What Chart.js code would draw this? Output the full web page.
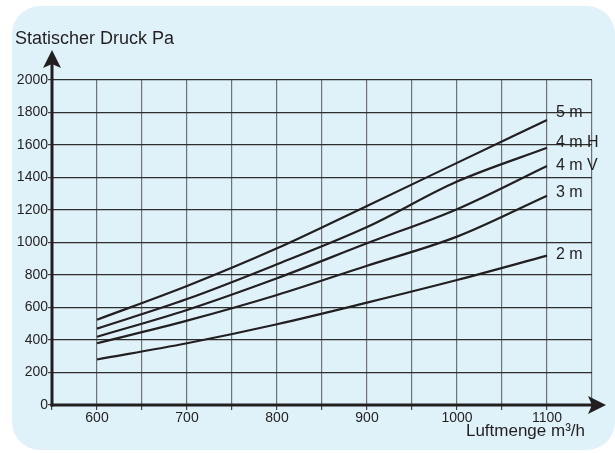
<!DOCTYPE html>
<html><head><meta charset="utf-8">
<script src="https://cdn.jsdelivr.net/npm/chart.js@4.4.0/dist/chart.umd.min.js"></script>
<style>
html,body{margin:0;padding:0;background:#fff;}
#wrap{position:relative;width:615px;height:453px;overflow:hidden;}
#bg{position:absolute;left:12px;top:6px;width:603px;height:444px;background:#dff2fa;border-radius:28px;}
canvas{position:absolute;left:0;top:0;}
</style></head><body>
<div id="wrap"><div id="bg"></div><canvas id="c" width="615" height="453"></canvas></div>
<script>
// Data
const airflow = [600, 700, 800, 900, 1000, 1100];
const press5m  = [525, 732, 964, 1225, 1490, 1754];
const press4mH = [470, 652, 866, 1095, 1375, 1583];
const press4mV = [420, 585, 780, 995, 1205, 1471];
const press3m  = [380, 519, 677, 857, 1036, 1288];
const press2m  = [280, 380, 497, 630, 769, 919];
const seriesNames = ['5 m', '4 m H', '4 m V', '3 m', '2 m'];
const yTitle = 'Statischer Druck Pa';
const xTitle = 'Luftmenge m³/h';

const FONT = '"Liberation Sans", Arial, sans-serif';
const INK = '#231f20';
const allSeries = [press5m, press4mH, press4mV, press3m, press2m];

const datasets = allSeries.map((vals, i) => ({
  label: seriesNames[i],
  data: airflow.map((x, j) => ({x: x, y: vals[j]})),
  borderColor: INK,
  borderWidth: 2.2,
  pointRadius: 0,
  fill: false,
  cubicInterpolationMode: 'monotone'
}));

const labelNudge = [-7, -5, 0, -3, -1];

const decor = {
  id: 'decor',
  afterDraw(chart) {
    const ctx = chart.ctx;
    const xs = chart.scales.x, ys = chart.scales.y;
    const L = xs.left, B = ys.bottom;
    ctx.save();
    ctx.fillStyle = INK; ctx.strokeStyle = INK;
    // y axis
    ctx.lineWidth = 3;
    ctx.beginPath(); ctx.moveTo(L, B + 1.5); ctx.lineTo(L, 62); ctx.stroke();
    ctx.beginPath(); ctx.moveTo(L, 50); ctx.lineTo(L - 9, 68); ctx.lineTo(L, 64); ctx.lineTo(L + 9, 68); ctx.closePath(); ctx.fill();
    // x axis
    ctx.beginPath(); ctx.moveTo(L - 1.5, B); ctx.lineTo(595, B); ctx.stroke();
    ctx.beginPath(); ctx.moveTo(606, B); ctx.lineTo(588, B - 9); ctx.lineTo(592, B); ctx.lineTo(588, B + 9); ctx.closePath(); ctx.fill();
    // titles
    ctx.font = '18px ' + FONT;
    ctx.textBaseline = 'alphabetic';
    ctx.textAlign = 'left';
    ctx.fillText(yTitle, 15, 44);
    ctx.font = '17px ' + FONT;
    ctx.textAlign = 'right';
    ctx.fillText(xTitle, 585, 436);
    // series labels at line ends
    ctx.font = '16px ' + FONT;
    ctx.textAlign = 'left';
    ctx.textBaseline = 'middle';
    allSeries.forEach((vals, i) => {
      const lx = xs.getPixelForValue(airflow[airflow.length - 1]) + 9;
      const ly = ys.getPixelForValue(vals[vals.length - 1]) + labelNudge[i];
      ctx.fillText(seriesNames[i], lx, ly);
    });
    ctx.restore();
  }
};

new Chart(document.getElementById('c'), {
  type: 'line',
  data: { datasets },
  options: {
    responsive: false,
    animation: false,
    devicePixelRatio: 1,
    layout: { padding: { left: 0, top: 80, right: 23, bottom: 0 } },
    plugins: { legend: { display: false }, tooltip: { enabled: false } },
    scales: {
      x: {
        type: 'linear', min: 550, max: 1150,
        afterFit(s) { s.height = 48; },
        ticks: {
          stepSize: 50, autoSkip: false, maxRotation: 0, padding: 0,
          color: INK, font: { family: FONT, size: 14 },
          callback: v => (v % 100 === 0 && v >= 600 && v <= 1100) ? String(v) : ''
        },
        grid: { color: '#6f7275', lineWidth: 1.2, tickLength: 5, tickColor: '#444' },
        border: { display: false }
      },
      y: {
        min: 0, max: 2000,
        afterFit(s) { s.width = 52; },
        ticks: { stepSize: 200, padding: 0, color: INK, font: { family: FONT, size: 14 },
          callback: v => String(v) },
        grid: { color: '#2e2e2e', lineWidth: 1.2, tickLength: 4, tickColor: '#444' },
        border: { display: false }
      }
    }
  },
  plugins: [decor]
});
</script>
</body></html>
